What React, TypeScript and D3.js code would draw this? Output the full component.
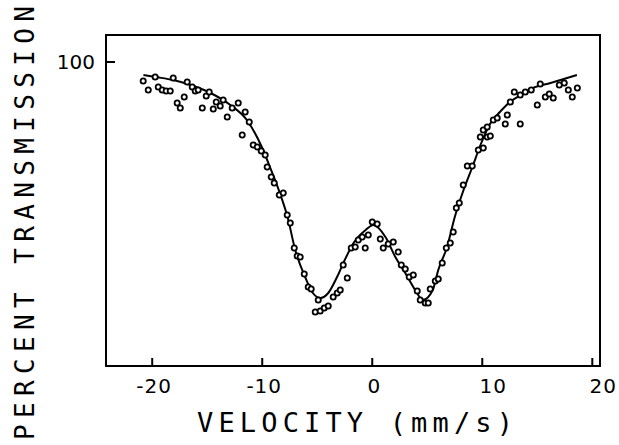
import * as d3 from "d3";

// ── Data ──────────────────────────────────────────────────
const velocity = [
  -20.82, -20.36, -19.73, -19.45, -19.09, -18.73, -18.36, -18.09, -17.73, -17.45,
  -17.09, -16.82, -16.36, -16.09, -15.82, -15.45, -15.09, -14.82, -14.45, -14.18,
  -13.82, -13.55, -13.18, -12.73, -12.18, -11.55, -11.18, -11.82, -10.82, -10.45,
  -10.09, -9.73, -9.55, -9.18, -8.91, -8.45, -8.09, -7.73, -7.45, -7.09,
  -6.82, -6.55, -6.18, -5.82, -5.55, -4.91, -5.18, -4.73, -4.36, -4.0,
  -3.55, -3.18, -2.91, -2.27, -2.64, -1.91, -1.55, -1.27, -0.91, -0.64,
  -0.36, 0.0, 0.45, 0.73, 1.0, 1.45, 1.91, 2.36, 2.64, 3.0,
  3.36, 3.73, 4.09, 4.36, 4.82, 5.09, 5.27, 5.73, 6.0, 6.36,
  6.73, 7.09, 7.36, 7.64, 7.91, 8.27, 8.64, 9.09, 9.64, 10.09,
  9.82, 10.09, 10.45, 10.73, 10.45, 11.0, 11.36, 12.09, 12.27, 12.55,
  12.91, 13.45, 13.45, 13.91, 14.45, 15.0, 15.27, 15.73, 16.09, 16.45,
  17.0, 17.45, 17.82, 18.18, 18.64,
];
const transmission = [
  99.05, 98.6, 99.25, 98.75, 98.6, 98.55, 98.55, 99.2, 97.95, 97.7,
  98.25, 99.0, 98.75, 98.55, 98.6, 97.7, 98.3, 98.5, 97.65, 98.0,
  97.8, 98.1, 97.25, 97.7, 97.95, 97.5, 97.0, 96.35, 95.85, 95.75,
  95.55, 95.35, 94.75, 94.25, 93.95, 93.35, 93.45, 92.35, 91.95, 90.7,
  90.3, 90.25, 89.4, 88.75, 88.65, 88.1, 87.5, 87.55, 87.7, 87.8,
  88.25, 88.45, 88.6, 89.2, 89.85, 90.7, 90.75, 91.1, 91.25, 90.7,
  91.35, 92.0, 91.9, 91.15, 90.7, 90.9, 91.0, 90.5, 89.85, 89.65,
  89.25, 89.35, 88.55, 88.1, 87.95, 87.95, 88.65, 89.05, 89.15, 89.95,
  90.7, 90.95, 91.5, 92.7, 92.95, 93.85, 94.8, 94.8, 95.6, 95.7,
  96.25, 96.6, 96.25, 96.3, 96.75, 97.1, 97.2, 96.9, 97.35, 98.0,
  98.5, 96.9, 98.35, 98.5, 98.6, 97.85, 98.9, 98.25, 98.4, 98.2,
  98.85, 98.95, 98.6, 98.25, 98.7,
];

// fitted curve, sampled from the drawn line
const fitVelocity = [
  -20.8, -19.7, -18.1, -16.5, -14.7, -12.9, -11.4, -10.0, -9.3, -8.4,
  -7.7, -7.0, -6.1, -5.4, -4.7, -4.0, -3.2, -2.5, -1.7, -0.6,
  0.1, 1.2, 2.1, 3.0, 3.9, 4.6, 5.5, 6.0, 6.8, 7.5,
  8.3, 9.1, 9.8, 10.7, 11.6, 12.5, 13.5, 14.6, 16.2, 18.6,
];
const fitTransmission = [
  99.35, 99.25, 99.1, 98.85, 98.45, 97.85, 97.1, 95.7, 94.75, 93.45,
  92.25, 90.6, 89.25, 88.45, 88.2, 88.45, 89.25, 90.1, 90.95, 91.6,
  91.85, 91.25, 90.25, 89.45, 88.6, 88.1, 88.6, 89.6, 90.75, 92.25,
  93.6, 94.75, 95.8, 96.9, 97.5, 98.0, 98.35, 98.7, 98.95, 99.35,
];

const xTicks = [-20, -10, 0, 10, 20];
const yTicks = [100];

// ── Layout ────────────────────────────────────────────────
const W = 619;
const H = 445;
const L = 106, R = 600, T = 35, B = 366;
const FONT = "'DejaVu Sans', sans-serif";
const MONO = "'DejaVu Sans Mono', monospace";

const x = d3.scaleLinear().domain([-24.2, 20.7]).range([L, R]);
const y = d3.scaleLinear().domain([84.8, 101.35]).range([B, T]);

const fitLine = d3.line<number>()
  .x((_, i) => x(fitVelocity[i]))
  .y((_, i) => y(fitTransmission[i]))
  .curve(d3.curveMonotoneX);

export default function App() {
  return (
    <svg width={W} height={H} viewBox={`0 0 ${W} ${H}`}
      style={{ position: "absolute", left: 0, top: 0, background: "#fff" }}>

      {/* frame */}
      <rect x={L} y={T} width={R - L} height={B - T}
        fill="none" stroke="#000" strokeWidth={2} />

      {/* x ticks, pointing inward */}
      {xTicks.map(t => (
        <g key={t}>
          <line x1={x(t)} x2={x(t)} y1={B} y2={B - 8} stroke="#000" strokeWidth={2} />
          <text x={x(t) + (t > 0 ? 11 : 2)} y={393} textAnchor="middle"
            fontSize={20} fontFamily={FONT} letterSpacing={1} fill="#000">
            {t}
          </text>
        </g>
      ))}

      {/* y ticks */}
      {yTicks.map(t => (
        <g key={t}>
          <line x1={L} x2={L + 9} y1={y(t)} y2={y(t)} stroke="#000" strokeWidth={2} />
          <text x={95} y={y(t) + 7} textAnchor="end"
            fontSize={20} fontFamily={FONT} fill="#000">
            {t}
          </text>
        </g>
      ))}

      {/* fitted curve */}
      <path d={fitLine(fitVelocity) ?? ""} fill="none" stroke="#000" strokeWidth={2} />

      {/* measured points */}
      {velocity.map((v, i) => (
        <circle key={i} cx={x(v)} cy={y(transmission[i])} r={2.6}
          fill="#fff" stroke="#000" strokeWidth={1.8} />
      ))}

      {/* axis titles */}
      <text x={197} y={432} textLength={316} lengthAdjust="spacing"
        fontSize={27} fontFamily={MONO} fill="#000">
        VELOCITY (mm/s)
      </text>
      <text transform="translate(34, 440) rotate(-90)" textLength={434}
        lengthAdjust="spacing" fontSize={26} fontFamily={MONO} fill="#000">
        PERCENT TRANSMISSION
      </text>
    </svg>
  );
}
